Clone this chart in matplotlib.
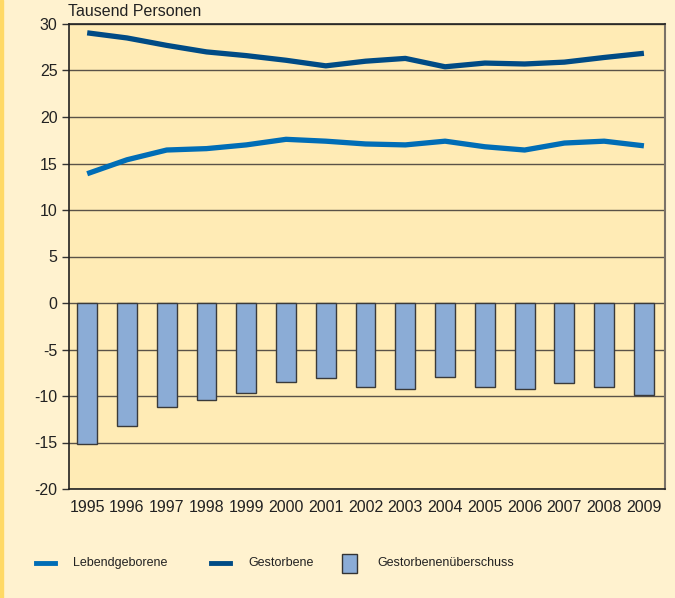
import matplotlib
matplotlib.use("Agg")
import matplotlib.pyplot as plt
from matplotlib.patches import Rectangle
from matplotlib.lines import Line2D

years = ["1995", "1996", "1997", "1998", "1999", "2000", "2001", "2002",
         "2003", "2004", "2005", "2006", "2007", "2008", "2009"]
lebendgeborene = [13.9, 15.4, 16.45, 16.6, 17.0, 17.6, 17.4, 17.1, 17.0, 17.4, 16.8, 16.45, 17.2, 17.4, 16.9]
gestorbene = [29.05, 28.5, 27.7, 27.0, 26.6, 26.1, 25.5, 26.0, 26.3, 25.4, 25.8, 25.7, 25.9, 26.4, 26.85]
ueberschuss = [-15.2, -13.2, -11.2, -10.4, -9.7, -8.5, -8.1, -9.0, -9.3, -8.0, -9.0, -9.2, -8.6, -9.0, -9.9]
yticks = [30, 25, 20, 15, 10, 5, 0, -5, -10, -15, -20]
labels = ["Lebendgeborene", "Gestorbene", "Gestorbenenüberschuss"]

plt.rcParams['font.family'] = ['Liberation Sans', 'DejaVu Sans']

fig = plt.figure(figsize=(6.75, 5.98), dpi=100, facecolor='#FFF2CF')
W, H = 675, 598
fig.patches.append(Rectangle((0, 0), 3 / W, 1, transform=fig.transFigure,
                             color='#FFD965', zorder=0))

ax = fig.add_axes([68.5 / W, 1 - 489 / H, (665 - 68.5) / W, (489 - 24) / H])
ax.set_facecolor('#FFEBB5')
x = list(range(len(years)))

ax.bar(x, ueberschuss, width=0.5, color='#8BACD6', edgecolor='#3A3A3A',
       linewidth=1.0, zorder=3)
ax.plot(x, gestorbene, color='#004B85', linewidth=3.8, solid_capstyle='butt', zorder=4)
ax.plot(x, lebendgeborene, color='#006DB6', linewidth=3.8, solid_capstyle='butt', zorder=4)

ax.set_xlim(-0.47, 14.53)
ax.set_ylim(-20, 30)
ax.set_yticks(yticks)
ax.set_yticklabels([str(v) for v in yticks], fontsize=11.5, color='#222222')
ax.set_xticks(x)
ax.set_xticklabels(years, fontsize=11.5, color='#222222')
ax.tick_params(axis='x', length=0, pad=8)
ax.tick_params(axis='y', length=5, width=1, color='#333333', pad=3)
ax.grid(axis='y', color='#5A5248', linewidth=1.0, zorder=1)
for s in ['left', 'bottom', 'top']:
    ax.spines[s].set_color('#222222')
    ax.spines[s].set_linewidth(1.2)
ax.spines['right'].set_color('#7A7268')
ax.spines['right'].set_linewidth(1.5)

fig.text(68 / W, 1 - 12 / H, "Tausend Personen", fontsize=11.5, color='#222222',
         ha='left', va='center')

ly = 1 - 563 / H
fig.add_artist(Line2D([36 / W, 55 / W], [ly, ly], transform=fig.transFigure,
                      color='#006DB6', linewidth=3.5))
fig.text(73 / W, ly, labels[0], fontsize=9, color='#222222', ha='left', va='center')
fig.add_artist(Line2D([211 / W, 230 / W], [ly, ly], transform=fig.transFigure,
                      color='#004B85', linewidth=3.5))
fig.text(248 / W, ly, labels[1], fontsize=9, color='#222222', ha='left', va='center')
fig.patches.append(Rectangle((342 / W, 1 - 573 / H), 15 / W, 19 / H, transform=fig.transFigure,
                             facecolor='#8BACD6', edgecolor='#333333', linewidth=1.0))
fig.text(377 / W, ly, labels[2], fontsize=9, color='#222222', ha='left', va='center')

fig.savefig("out.png", dpi=100, facecolor=fig.get_facecolor())
